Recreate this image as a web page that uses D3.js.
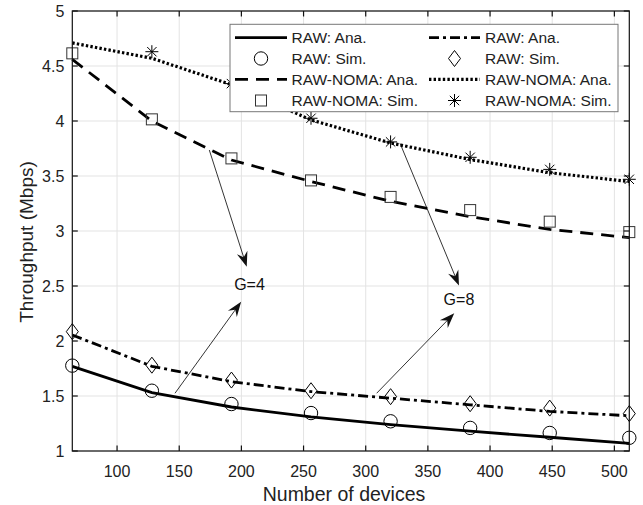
<!DOCTYPE html>
<html><head><meta charset="utf-8">
<script src="https://cdn.jsdelivr.net/npm/d3@7"></script>
<style>
html,body{margin:0;padding:0;background:#fff;}
svg{display:block;font-family:"Liberation Sans",Arial,Helvetica,sans-serif;}
</style></head>
<body><svg id="c" width="643" height="505"></svg>
<script>
const devices = [64,128,192,256,320,384,448,512];
const rawAnaG4  = [1.77, 1.53, 1.40, 1.31, 1.24, 1.18, 1.125, 1.07];
const rawSimG4  = [1.776, 1.548, 1.427, 1.345, 1.27, 1.21, 1.164, 1.12];
const rawAnaG8  = [2.055, 1.77, 1.63, 1.54, 1.48, 1.42, 1.36, 1.32];
const rawSimG8  = [2.085, 1.78, 1.645, 1.548, 1.494, 1.43, 1.39, 1.34];
const nomaAnaG4 = [4.56, 4.00, 3.645, 3.45, 3.27, 3.13, 3.015, 2.94];
const nomaSimG4 = [4.615, 4.015, 3.66, 3.46, 3.31, 3.19, 3.085, 2.99];
const nomaAnaG8 = [4.71, 4.57, 4.33, 4.01, 3.80, 3.65, 3.53, 3.45];
const nomaSimG8 = [null, 4.63, 4.34, 4.025, 3.81, 3.67, 3.56, 3.47];
const xTicks = [100,150,200,250,300,350,400,450,500];
const yTicks = [1,1.5,2,2.5,3,3.5,4,4.5,5];
const xLabel = "Number of devices";
const yLabel = "Throughput (Mbps)";
const legendLabels = ["RAW: Ana.","RAW: Sim.","RAW-NOMA: Ana.","RAW-NOMA: Sim.",
                      "RAW: Ana.","RAW: Sim.","RAW-NOMA: Ana.","RAW-NOMA: Sim."];
// annotations in data coords
const annoText = [{t:"G=4", x:206.5, y:2.51},{t:"G=8", x:375, y:2.38}];
const annoArrows = [
  {x1:174.2,y1:3.736,x2:204.3,y2:2.675},
  {x1:146.6,y1:1.525,x2:199.8,y2:2.357},
  {x1:327.6,y1:3.797,x2:375.0,y2:2.505},
  {x1:308.8,y1:1.525,x2:371.2,y2:2.252}
];

const L=72.3, R=629.3, T=11, B=451;
const x = d3.scaleLinear().domain([64,512]).range([L,R]);
const y = d3.scaleLinear().domain([1,5]).range([B,T]);
const svg = d3.select("#c");

// grid
const g = svg.append("g");
g.selectAll("line.gx").data(xTicks).join("line")
  .attr("x1",d=>x(d)).attr("x2",d=>x(d)).attr("y1",T).attr("y2",B)
  .attr("stroke","#e3e3e3").attr("stroke-width",1);
g.selectAll("line.gy").data(yTicks).join("line")
  .attr("y1",d=>y(d)).attr("y2",d=>y(d)).attr("x1",L).attr("x2",R)
  .attr("stroke","#e3e3e3").attr("stroke-width",1);

const styles = {
  solid:{dash:null, w:2.8},
  dashdot:{dash:"10,4,3,4", w:2.8},
  dashed:{dash:"13,8", w:2.8},
  dotted:{dash:"2.4,2.2", w:3.2}
};
const lineSeries = [
  {v:rawAnaG4, s:"solid"},
  {v:rawAnaG8, s:"dashdot"},
  {v:nomaAnaG4, s:"dashed"},
  {v:nomaAnaG8, s:"dotted"}
];
const lineGen = d3.line().defined(d=>d[1]!=null).x(d=>x(d[0])).y(d=>y(d[1]));
lineSeries.forEach(ls=>{
  svg.append("path").datum(devices.map((d,i)=>[d,ls.v[i]]))
    .attr("d",lineGen).attr("fill","none").attr("stroke","#000")
    .attr("stroke-width",styles[ls.s].w)
    .attr("stroke-dasharray",styles[ls.s].dash);
});

function drawMarker(sel, type, cx, cy){
  if(type==="circle"){
    sel.append("circle").attr("cx",cx).attr("cy",cy).attr("r",6.7)
      .attr("fill","none").attr("stroke","#000").attr("stroke-width",1);
  } else if(type==="square"){
    sel.append("rect").attr("x",cx-5.5).attr("y",cy-5.5).attr("width",11).attr("height",11)
      .attr("fill","none").attr("stroke","#333").attr("stroke-width",1);
  } else if(type==="diamond"){
    sel.append("path").attr("d",`M${cx},${cy-8}L${cx+6},${cy}L${cx},${cy+8}L${cx-6},${cy}Z`)
      .attr("fill","none").attr("stroke","#000").attr("stroke-width",1);
  } else if(type==="asterisk"){
    const r=6.5, d=r*0.72;
    sel.append("path").attr("d",`M${cx-r},${cy}H${cx+r}M${cx},${cy-r}V${cy+r}M${cx-d},${cy-d}L${cx+d},${cy+d}M${cx-d},${cy+d}L${cx+d},${cy-d}`)
      .attr("fill","none").attr("stroke","#000").attr("stroke-width",1);
  }
}
const markerSeries = [
  {v:rawSimG4, m:"circle"},
  {v:rawSimG8, m:"diamond"},
  {v:nomaSimG4, m:"square"},
  {v:nomaSimG8, m:"asterisk"}
];
const mg = svg.append("g");
markerSeries.forEach(ms=>{
  devices.forEach((d,i)=>{ if(ms.v[i]!=null) drawMarker(mg, ms.m, x(d), y(ms.v[i])); });
});

// arrows
function arrowHead(x1,y1,x2,y2){
  const a=Math.atan2(y2-y1,x2-x1), len=15, hw=5.5, notch=10;
  const ux=Math.cos(a), uy=Math.sin(a), px=-uy, py=ux;
  const bx=x2-ux*len, by=y2-uy*len;
  const nx=x2-ux*notch, ny=y2-uy*notch;
  return `M${x2},${y2}L${bx+px*hw},${by+py*hw}L${nx},${ny}L${bx-px*hw},${by-py*hw}Z`;
}
annoArrows.forEach(a=>{
  const x1=x(a.x1),y1=y(a.y1),x2=x(a.x2),y2=y(a.y2);
  const ang=Math.atan2(y2-y1,x2-x1);
  svg.append("line").attr("x1",x1).attr("y1",y1)
    .attr("x2",x2-Math.cos(ang)*9).attr("y2",y2-Math.sin(ang)*9)
    .attr("stroke","#000").attr("stroke-width",0.8);
  svg.append("path").attr("d",arrowHead(x1,y1,x2,y2)).attr("fill","#111").attr("stroke","none");
});
svg.selectAll("text.anno").data(annoText).join("text")
  .attr("x",d=>x(d.x)).attr("y",d=>y(d.y)).attr("text-anchor","middle")
  .attr("dominant-baseline","central").attr("font-size",16).attr("fill","#111").text(d=>d.t);

// axes box + ticks
const ax = svg.append("g");
ax.append("rect").attr("x",L).attr("y",T).attr("width",R-L).attr("height",B-T)
  .attr("fill","none").attr("stroke","#111").attr("stroke-width",1.2);
const tl=5.5;
xTicks.forEach(t=>{
  ax.append("line").attr("x1",x(t)).attr("x2",x(t)).attr("y1",B).attr("y2",B-tl).attr("stroke","#111").attr("stroke-width",1.2);
  ax.append("line").attr("x1",x(t)).attr("x2",x(t)).attr("y1",T).attr("y2",T+tl).attr("stroke","#111").attr("stroke-width",1.2);
  ax.append("text").attr("x",x(t)).attr("y",B+20).attr("text-anchor","middle")
    .attr("dominant-baseline","central").attr("font-size",16).attr("fill","#222").text(t);
});
yTicks.forEach(t=>{
  ax.append("line").attr("y1",y(t)).attr("y2",y(t)).attr("x1",L).attr("x2",L+tl).attr("stroke","#111").attr("stroke-width",1.2);
  ax.append("line").attr("y1",y(t)).attr("y2",y(t)).attr("x1",R).attr("x2",R-tl).attr("stroke","#111").attr("stroke-width",1.2);
  ax.append("text").attr("x",L-8).attr("y",y(t)).attr("text-anchor","end")
    .attr("dominant-baseline","central").attr("font-size",16).attr("fill","#222").text(t);
});
ax.append("text").attr("x",344).attr("y",494).attr("text-anchor","middle")
  .attr("dominant-baseline","central").attr("font-size",19.5).attr("fill","#222").text(xLabel);
ax.append("text").attr("transform",`translate(26,242) rotate(-90)`).attr("text-anchor","middle")
  .attr("dominant-baseline","central").attr("font-size",19).attr("fill","#222").text(yLabel);

// legend
const lg = svg.append("g");
lg.append("rect").attr("x",230).attr("y",24.3).attr("width",388).attr("height",87.4)
  .attr("fill","#fff").attr("stroke","#777").attr("stroke-width",1);
const rowsY=[37.7,58.5,79.3,100.5];
const cols=[{lx1:235,lx2:287,tx:291.5},{lx1:429,lx2:480,tx:485}];
const legendItems = [
  {c:0,r:0,kind:"line",s:"solid"},{c:0,r:1,kind:"marker",m:"circle"},
  {c:0,r:2,kind:"line",s:"dashed"},{c:0,r:3,kind:"marker",m:"square"},
  {c:1,r:0,kind:"line",s:"dashdot"},{c:1,r:1,kind:"marker",m:"diamond"},
  {c:1,r:2,kind:"line",s:"dotted"},{c:1,r:3,kind:"marker",m:"asterisk"}
];
legendItems.forEach((it,i)=>{
  const c=cols[it.c], yy=rowsY[it.r];
  if(it.kind==="line"){
    lg.append("line").attr("x1",c.lx1).attr("x2",c.lx2).attr("y1",yy).attr("y2",yy)
      .attr("stroke","#000").attr("stroke-width",styles[it.s].w).attr("stroke-dasharray",styles[it.s].dash);
  } else {
    drawMarker(lg, it.m, (c.lx1+c.lx2)/2, yy);
  }
  lg.append("text").attr("x",c.tx).attr("y",yy).attr("dominant-baseline","central")
    .attr("font-size",15.5).attr("fill","#222").text(legendLabels[i]);
});
</script></body></html>
